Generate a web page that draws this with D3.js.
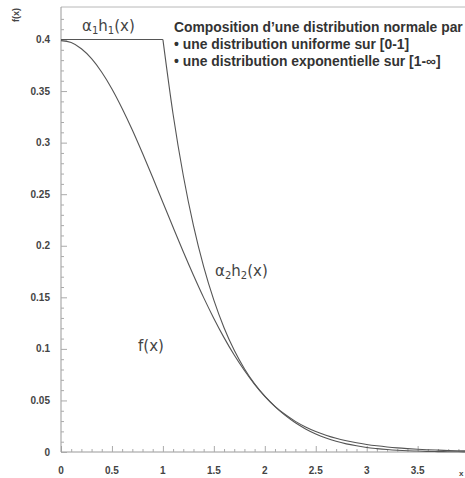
<!DOCTYPE html>
<meta charset='utf-8'>
<html>
  <style>
    body { margin: 0; background: #fff; }
    .tick-label { font: bold 10px "Liberation Sans", Arial, sans-serif; fill: #444; }
    .note { font: bold 14px "Liberation Sans", Arial, sans-serif; fill: #333; }
    .curve-label { font: 15px "DejaVu Sans", sans-serif; fill: #444; }
    .frame { stroke: #b8b8b8; stroke-width: 1px; fill: none; }
    .curve { stroke: #555; stroke-width: 1.1px; fill: none; }
  </style>
  <head>
    <script src="https://cdn.jsdelivr.net/npm/d3@7/dist/d3.min.js"></script>
  </head>
  <body>
    <div id="chart"></div>
    <script type="text/javascript">
      // x positions (0 -> 4, step 0.1)
      var xs = [0,0.1,0.2,0.3,0.4,0.5,0.6,0.7,0.8,0.9,1.0,1.1,1.2,1.3,1.4,1.5,1.6,1.7,1.8,1.9,2.0,
                2.1,2.2,2.3,2.4,2.5,2.6,2.7,2.8,2.9,3.0,3.1,3.2,3.3,3.4,3.5,3.6,3.7,3.8,3.9,4.0];
      // f(x)
      var fVals = [0.3989,0.3970,0.3910,0.3814,0.3683,0.3521,0.3332,0.3123,0.2897,0.2661,0.2420,
                   0.2179,0.1942,0.1714,0.1497,0.1295,0.1109,0.0940,0.0790,0.0656,0.0540,
                   0.0440,0.0355,0.0283,0.0224,0.0175,0.0136,0.0104,0.0079,0.0060,0.0044,
                   0.0033,0.0024,0.0017,0.0012,0.0009,0.0006,0.0004,0.0003,0.0002,0.0001];
      // alpha1 h1(x): flat part on [0,1]
      var h1x = [0, 1];
      var h1Vals = [0.4, 0.4];
      // alpha2 h2(x): exponential part on [1,4]
      var h2x = [1.0,1.1,1.2,1.3,1.4,1.5,1.6,1.7,1.8,1.9,2.0,2.1,2.2,2.3,2.4,2.5,2.6,2.7,2.8,2.9,3.0,
                 3.1,3.2,3.3,3.4,3.5,3.6,3.7,3.8,3.9,4.0];
      var h2Vals = [0.4,0.3275,0.2681,0.2195,0.1797,0.1472,0.1205,0.0986,0.0808,0.0661,0.0541,
                    0.0443,0.0363,0.0297,0.0243,0.0199,0.0163,0.0133,0.0109,0.0089,0.0073,
                    0.0060,0.0049,0.0040,0.0033,0.0027,0.0022,0.0018,0.0015,0.0012,0.0010];
      var xTicks = [0,0.5,1,1.5,2,2.5,3,3.5];
      var yTicks = [0,0.05,0.1,0.15,0.2,0.25,0.3,0.35,0.4];
      var noteLines = ["Composition d\u2019une distribution normale par",
                       "\u2022 une distribution uniforme sur [0-1]",
                       "\u2022 une distribution exponentielle sur [1-\u221e]"];

      var width = 465, height = 478;
      var svg = d3.select("#chart").append("svg")
        .attr("width", width)
        .attr("height", height);

      var x = d3.scaleLinear().domain([0, 4]).range([61, 468.6]);
      var y = d3.scaleLinear().domain([0, 0.4]).range([452, 39.5]);

      // frame
      svg.append("line").attr("class", "frame")
        .attr("x1", x(0)).attr("x2", width).attr("y1", 7).attr("y2", 7);

      var xAxis = d3.axisTop(x)
        .tickValues(d3.range(0, 41).map(function(i){ return i / 10; }))
        .tickSizeInner(0).tickSizeOuter(0).tickFormat("");
      var gx = svg.append("g").attr("transform", "translate(0," + y(0) + ")").call(xAxis);
      gx.select(".domain").attr("stroke", "#999").attr("d", "M" + x(0) + ",0H" + width);
      gx.selectAll(".tick line")
        .attr("stroke", "#aaa")
        .attr("y2", function(d){ return Math.abs(d * 2 - Math.round(d * 2)) < 1e-6 ? -6 : -3; });

      var yAxis = d3.axisRight(y)
        .tickValues(d3.range(0, 43).map(function(i){ return i / 100; }))
        .tickSizeInner(0).tickSizeOuter(0).tickFormat("");
      var gy = svg.append("g").attr("transform", "translate(" + x(0) + ",0)").call(yAxis);
      gy.select(".domain").attr("stroke", "#999").attr("d", "M0,7V" + y(0));
      gy.selectAll(".tick line")
        .attr("stroke", "#aaa")
        .attr("x2", function(d){ return Math.abs(d * 20 - Math.round(d * 20)) < 1e-6 ? 6 : 3; });

      svg.selectAll(".xlab").data(xTicks).enter().append("text")
        .attr("class", "tick-label")
        .attr("x", function(d){ return x(d); })
        .attr("y", 474)
        .attr("text-anchor", "middle")
        .text(function(d){ return d; });

      svg.selectAll(".ylab").data(yTicks).enter().append("text")
        .attr("class", "tick-label")
        .attr("x", 50)
        .attr("y", function(d){ return y(d) + 3.5; })
        .attr("text-anchor", "end")
        .text(function(d){ return d; });

      svg.append("text")
        .attr("class", "tick-label")
        .attr("transform", "translate(19,15) rotate(-90)")
        .attr("text-anchor", "middle")
        .style("font-size", "9px")
        .text("f(x)");

      svg.append("text")
        .attr("class", "tick-label")
        .attr("x", 459).attr("y", 476)
        .style("font-size", "8px")
        .text("x");

      var line = d3.line()
        .x(function(d){ return x(d[0]); })
        .y(function(d){ return y(d[1]); })
        .curve(d3.curveMonotoneX);

      svg.append("path").attr("class", "curve")
        .attr("d", line(xs.map(function(v, i){ return [v, fVals[i]]; })));
      svg.append("path").attr("class", "curve")
        .attr("d", line.curve(d3.curveLinear)(h1x.map(function(v, i){ return [v, h1Vals[i]]; })));
      svg.append("path").attr("class", "curve")
        .attr("d", line.curve(d3.curveMonotoneX)(h2x.map(function(v, i){ return [v, h2Vals[i]]; })));

      // curve labels
      var lab1 = svg.append("text").attr("class", "curve-label").attr("x", 82).attr("y", 31);
      lab1.append("tspan").text("\u03b1");
      lab1.append("tspan").attr("dy", 3).style("font-size", "10px").text("1");
      lab1.append("tspan").attr("dy", -3).text("h");
      lab1.append("tspan").attr("dy", 3).style("font-size", "10px").text("1");
      lab1.append("tspan").attr("dy", -3).text("(x)");

      var lab2 = svg.append("text").attr("class", "curve-label").attr("x", 215).attr("y", 276);
      lab2.append("tspan").text("\u03b1");
      lab2.append("tspan").attr("dy", 3).style("font-size", "10px").text("2");
      lab2.append("tspan").attr("dy", -3).text("h");
      lab2.append("tspan").attr("dy", 3).style("font-size", "10px").text("2");
      lab2.append("tspan").attr("dy", -3).text("(x)");

      svg.append("text").attr("class", "curve-label")
        .attr("x", 138).attr("y", 351).text("f(x)");

      var notes = svg.selectAll(".note").data(noteLines).enter().append("text")
        .attr("class", "note")
        .attr("x", 174)
        .attr("y", function(d, i){ return [32, 49, 66][i]; })
        .text(function(d){ return d; });
      // scale note font so the first line spans to the right edge, like the reference
      var w0 = notes.node().getComputedTextLength();
      var fs = Math.min(16, 14 * 289 / w0);
      notes.style("font-size", fs + "px");
    </script>
  </body>
</html>
